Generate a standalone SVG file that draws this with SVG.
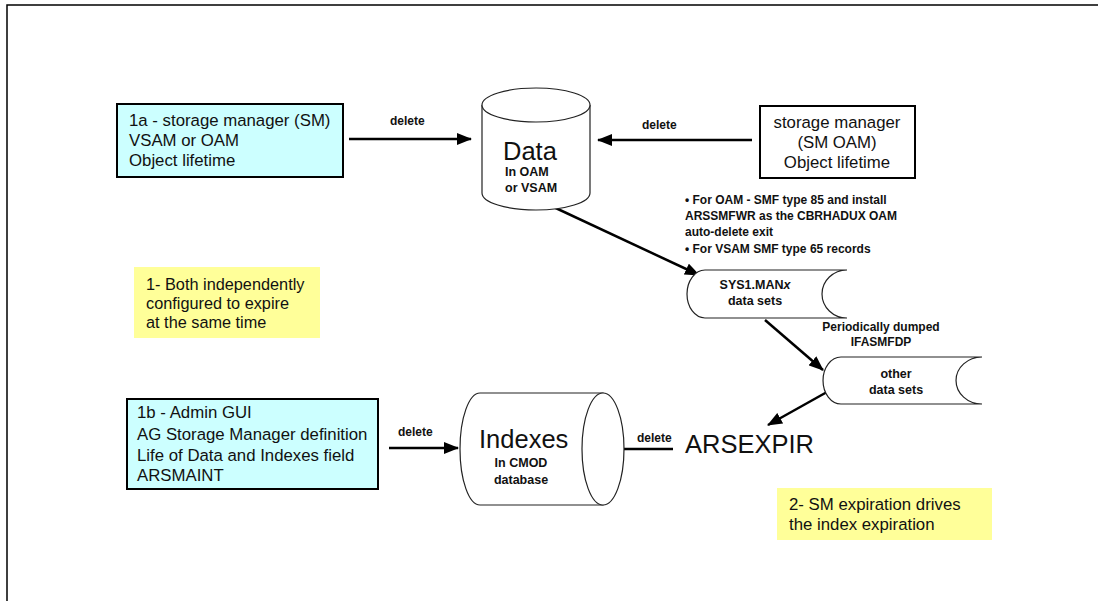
<svg xmlns="http://www.w3.org/2000/svg" width="1098" height="601" viewBox="0 0 1098 601">
<style>
text{font-family:"Liberation Sans",Arial,sans-serif;fill:#111}
.box{stroke:#000;stroke-width:2}
.cyan{fill:#ccffff}
.yellow{fill:#ffff99;stroke:none}
.shape{fill:#fff;stroke:#222;stroke-width:1.2}
.conn{stroke:#000;stroke-width:2.5;fill:none;marker-end:url(#ah)}
.lbl{font-size:12px;font-weight:bold}
.t16{font-size:16.8px}
.t15{font-size:16.3px}
.t12{font-size:12.5px;font-weight:bold}
.big{font-size:25.5px}
</style>
<defs>
<marker id="ah" markerUnits="userSpaceOnUse" markerWidth="16" markerHeight="12" refX="14" refY="6" orient="auto">
<path d="M0,0 L15,6 L0,12 Z" fill="#000"/>
</marker>
</defs>
<rect width="1098" height="601" fill="#fff"/>
<path d="M7,601 L7,5 L1098,5" fill="none" stroke="#000" stroke-width="1.5"/>

<g id="connectors">
<line class="conn" x1="349" y1="139" x2="471" y2="139"/>
<line class="conn" x1="752" y1="140" x2="598" y2="140"/>
<line class="conn" x1="530" y1="196" x2="699" y2="275"/>
<line class="conn" x1="765" y1="320" x2="823" y2="370"/>
<line class="conn" x1="827" y1="392" x2="768" y2="425"/>
<line class="conn" x1="673" y1="449" x2="602" y2="449"/>
<line class="conn" x1="389" y1="448" x2="458" y2="448"/>
<text class="lbl" x="390" y="125">delete</text>
<text class="lbl" x="642" y="129">delete</text>
<text class="lbl" x="398" y="436">delete</text>
<text class="lbl" x="637" y="442">delete</text>
<text class="lbl" x="685" y="204">• For OAM - SMF type 85 and install</text>
<text class="lbl" x="685" y="220">ARSSMFWR as the CBRHADUX OAM</text>
<text class="lbl" x="685" y="236">auto-delete exit</text>
<text class="lbl" x="685" y="253">• For VSAM SMF type 65 records</text>
<text class="lbl" x="881" y="331" text-anchor="middle">Periodically dumped</text>
<text class="lbl" x="881" y="346" text-anchor="middle">IFASMFDP</text>
</g>

<g id="box1a">
<rect class="box cyan" x="117" y="104" width="226" height="73"/>
<text class="t16" x="129" y="126">1a - storage manager (SM)</text>
<text class="t16" x="129" y="146">VSAM or OAM</text>
<text class="t16" x="129" y="166">Object lifetime</text>
</g>

<g id="data">
<path class="shape" d="M482,105 L482,193 A54,17 0 0 0 590,193 L590,105"/>
<ellipse class="shape" cx="536" cy="105" rx="54" ry="17"/>
<text class="big" x="503" y="160">Data</text>
<text class="t12" x="505" y="176">In OAM</text>
<text class="t12" x="505" y="192">or VSAM</text>
</g>

<g id="sm-oam">
<rect class="box" x="760" y="106" width="155" height="72" fill="#fff"/>
<text class="t16" x="837" y="128" text-anchor="middle">storage manager</text>
<text class="t16" x="837" y="148" text-anchor="middle">(SM OAM)</text>
<text class="t16" x="837" y="168" text-anchor="middle">Object lifetime</text>
</g>

<g id="sys1">
<path class="shape" d="M705,270 L847,270 A25,24 0 0 0 847,318 L705,318 A18,24 0 0 1 705,270 Z"/>
<text class="t12" x="755" y="289" text-anchor="middle">SYS1.MAN<tspan font-style="italic">x</tspan></text>
<text class="t12" x="755" y="305" text-anchor="middle">data sets</text>
</g>

<g id="other">
<path class="shape" d="M841,357 L982,357 A26,23.5 0 0 0 982,404 L841,404 A18,23.5 0 0 1 841,357 Z"/>
<text class="t12" x="896" y="378" text-anchor="middle">other</text>
<text class="t12" x="896" y="394" text-anchor="middle">data sets</text>
</g>

<g id="note1">
<rect class="yellow" x="134" y="267" width="186" height="71"/>
<text class="t15" x="146" y="290">1- Both independently</text>
<text class="t15" x="146" y="309">configured to expire</text>
<text class="t15" x="146" y="328">at the same time</text>
</g>

<g id="box1b">
<rect class="box cyan" x="127" y="399" width="251" height="90"/>
<text class="t16" x="137" y="418">1b - Admin GUI</text>
<text class="t16" x="137" y="440">AG Storage Manager definition</text>
<text class="t16" x="137" y="461">Life of Data and Indexes field</text>
<text class="t16" x="137" y="481">ARSMAINT</text>
</g>

<g id="indexes">
<path class="shape" d="M480,393 L603,393 L603,505 L480,505 A20,56 0 0 1 480,393 Z"/>
<ellipse class="shape" cx="603" cy="449" rx="21" ry="56"/>
<text class="big" x="479" y="448">Indexes</text>
<text class="t12" x="521" y="467" text-anchor="middle">In CMOD</text>
<text class="t12" x="521" y="484" text-anchor="middle">database</text>
</g>

<g id="arsexpir">
<text class="big" x="685" y="453">ARSEXPIR</text>
</g>

<g id="note2">
<rect class="yellow" x="777" y="488" width="215" height="52"/>
<text class="t15" x="789" y="510" style="font-size:16.8px">2- SM expiration drives</text>
<text class="t15" x="789" y="530" style="font-size:16.8px">the index expiration</text>
</g>
</svg>
